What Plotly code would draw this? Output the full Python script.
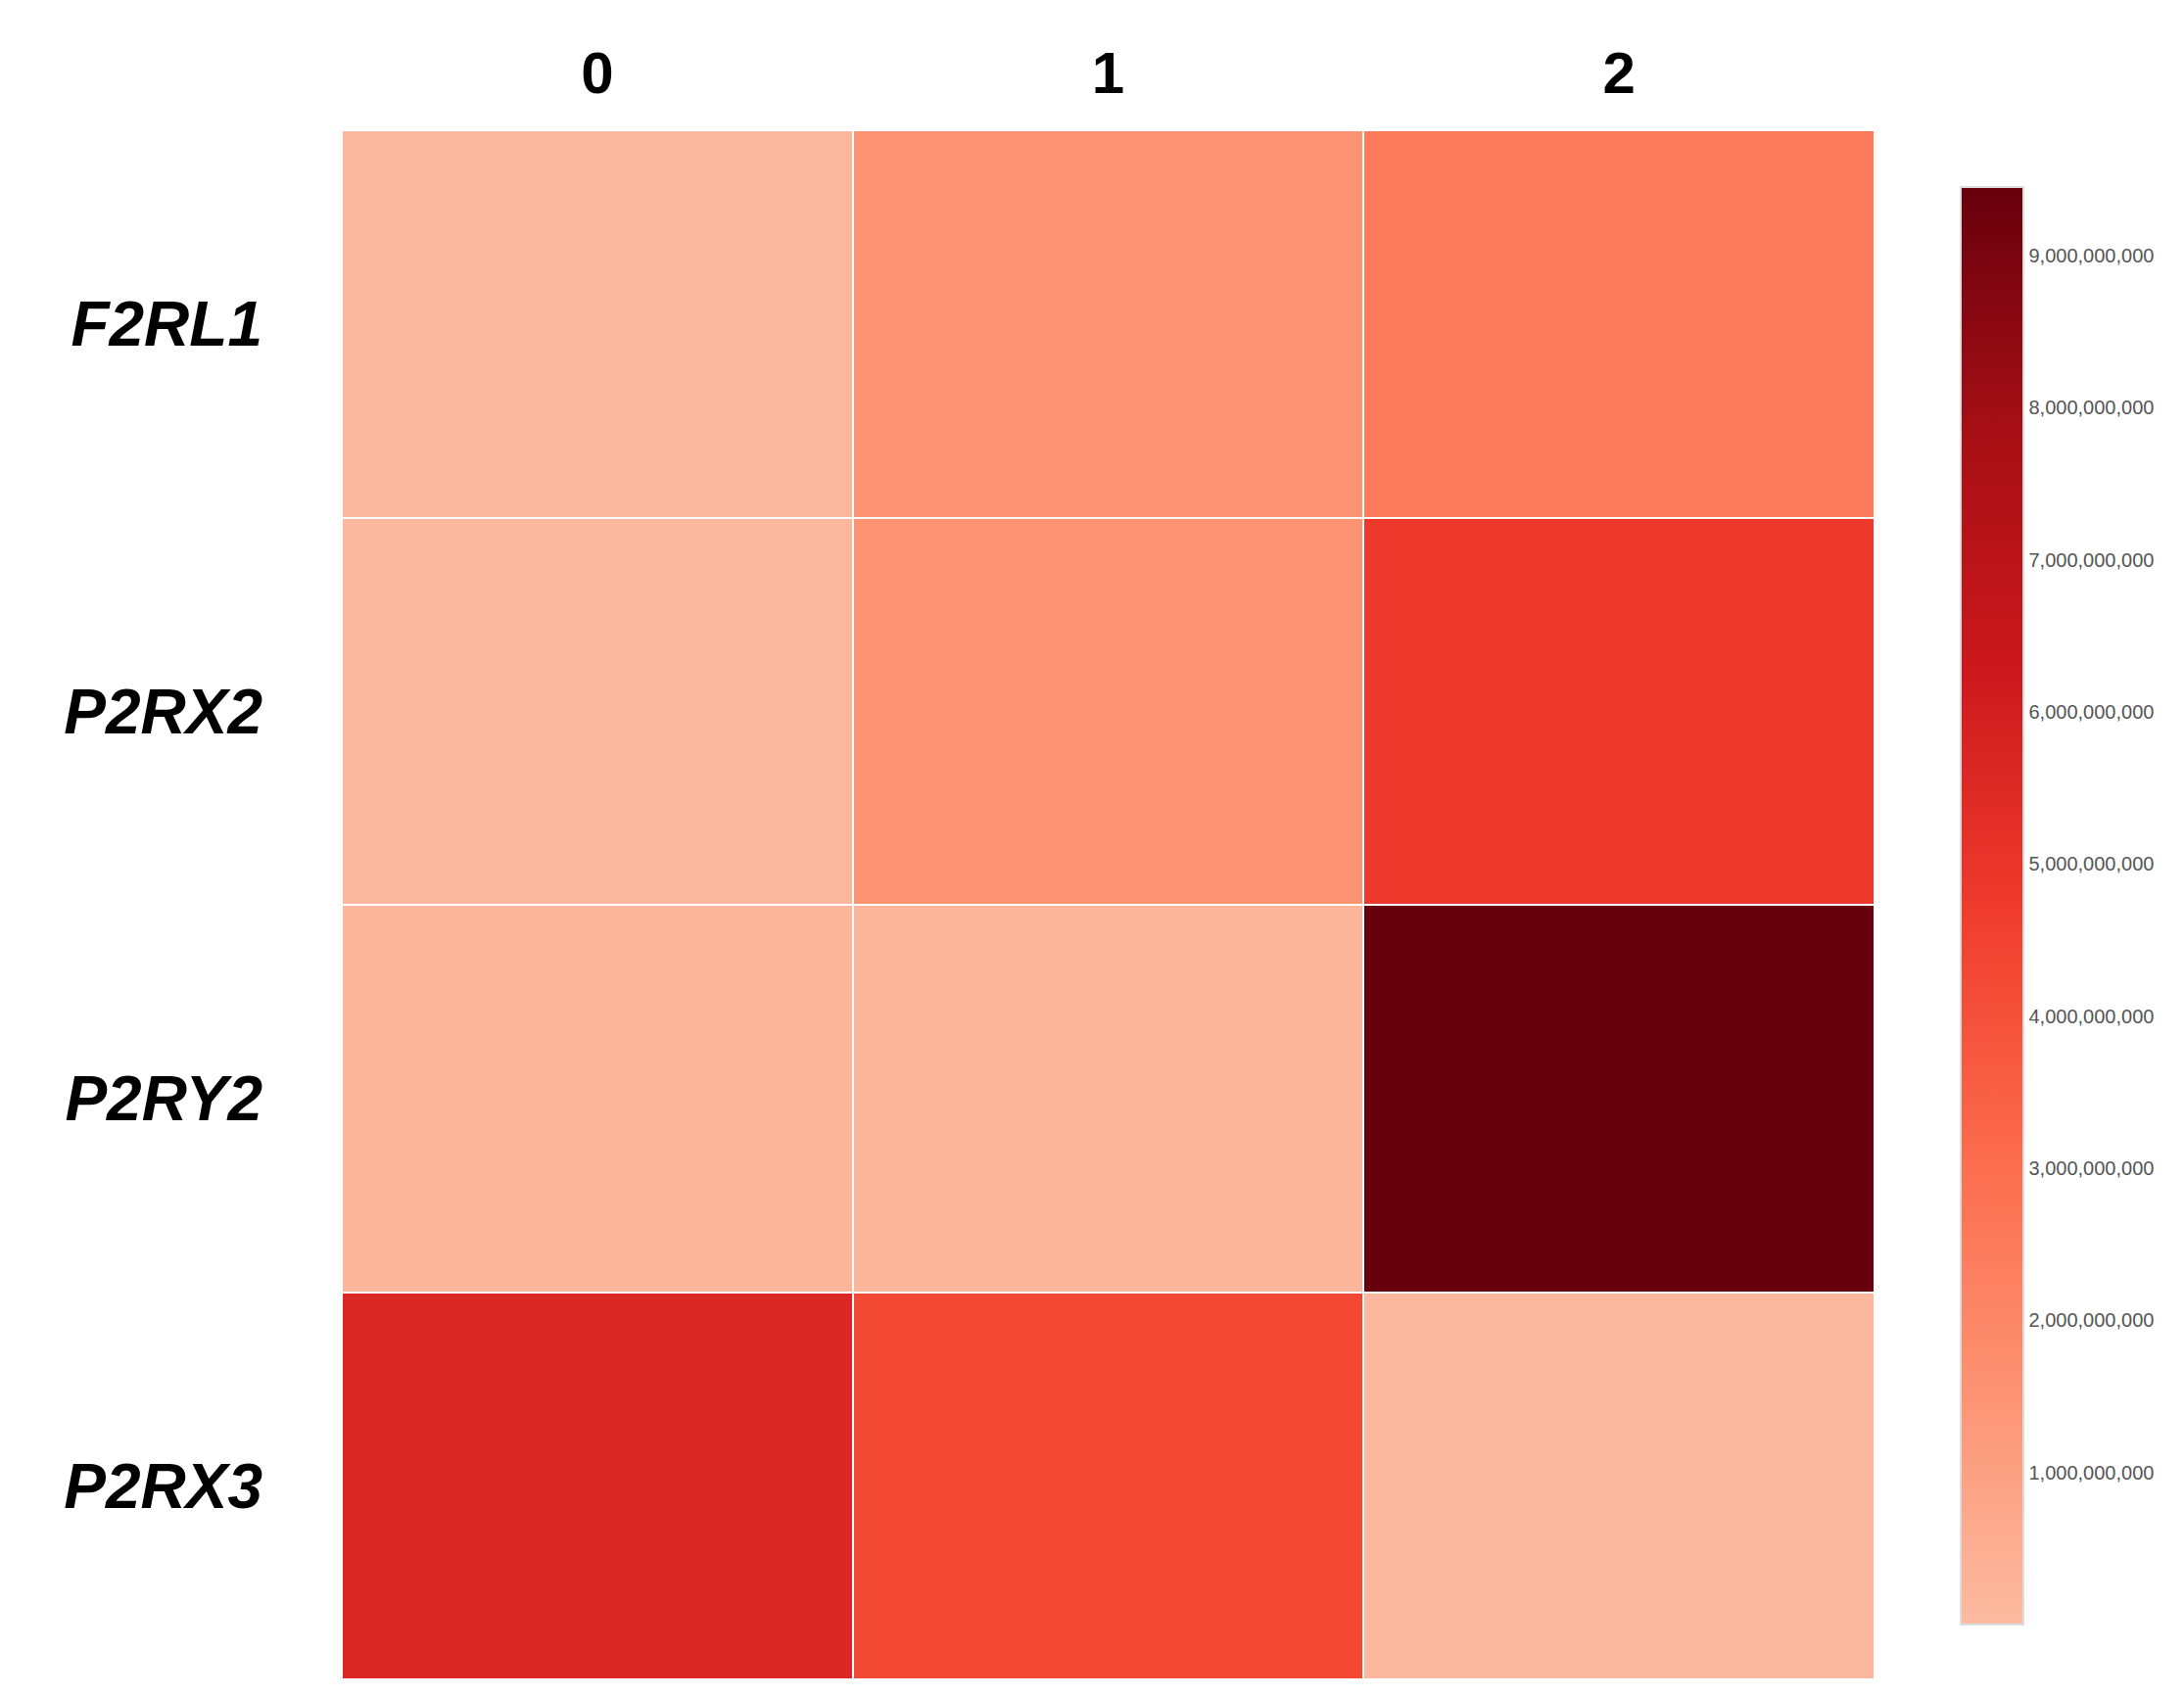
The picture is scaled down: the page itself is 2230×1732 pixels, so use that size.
import plotly.graph_objects as go

genes = ["F2RL1", "P2RX2", "P2RY2", "P2RX3"]
clusters = ["0", "1", "2"]
values = [
    [0.10e9, 1.50e9, 2.50e9],
    [0.10e9, 1.50e9, 4.80e9],
    [0.20e9, 0.20e9, 9.45e9],
    [5.60e9, 4.30e9, 0.10e9],
]
tickvals = [1e9, 2e9, 3e9, 4e9, 5e9, 6e9, 7e9, 8e9, 9e9]

reds = ["#fcbba1", "#fc9272", "#fb6a4a", "#ef3b2c", "#cb181d", "#a50f15", "#67000d"]
cs = [[i / (len(reds) - 1), c] for i, c in enumerate(reds)]

fig = go.Figure(go.Heatmap(
    z=values, x=clusters, y=genes, colorscale=cs, zmin=0, zmax=9.45e9,
    xgap=2, ygap=2,
    colorbar=dict(
        x=1.05, xanchor="left", y=0.4994, yanchor="middle",
        len=1488, lenmode="pixels", thickness=64, thicknessmode="pixels",
        outlinewidth=2, outlinecolor="#dddddd",
        tickvals=tickvals, tickformat=",d", ticks="",
        tickfont=dict(family="Arial, Liberation Sans", size=20, color="#555555"),
    ),
))
fig.update_layout(
    width=2230, height=1732, paper_bgcolor="white", plot_bgcolor="white",
    margin=dict(l=341, r=324, t=125, b=25),
    xaxis=dict(side="top", showgrid=False, zeroline=False, ticks="",
               ticklabelstandoff=25,
               tickfont=dict(family="Arial, Liberation Sans", size=60, color="black", weight="bold")),
    yaxis=dict(autorange="reversed", showgrid=False, zeroline=False, ticks="",
               ticklabelstandoff=80,
               tickfont=dict(family="Arial, Liberation Sans", size=64, color="black",
                             weight="bold", style="italic")),
)
fig.write_html("out.html")
